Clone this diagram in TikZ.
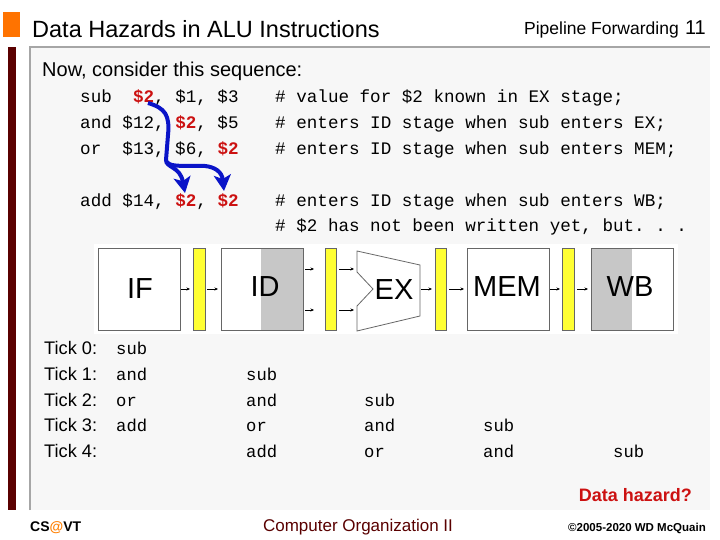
\documentclass[tikz,border=0pt]{standalone}
\usepackage{fontspec}
\setmainfont{Liberation Sans}
\setmonofont{Liberation Mono}
\usetikzlibrary{arrows.meta}
\definecolor{hred}{HTML}{CC1111}
\definecolor{dred}{HTML}{5A0000}
\definecolor{ablue}{HTML}{0A14C8}
\definecolor{ylw}{HTML}{FFFF33}
\begin{document}
\begin{tikzpicture}[x=1pt,y=-1pt,
  code/.style={anchor=base west,inner sep=0pt,font=\ttfamily\fontsize{17.6}{20}\selectfont},
  tick/.style={anchor=base west,inner sep=0pt,font=\fontsize{18.2}{20}\selectfont},
  tcode/.style={anchor=base west,inner sep=0pt,font=\ttfamily\fontsize{17.2}{20}\selectfont},
  stagebox/.style={draw=black!60,line width=0.8pt},
  latch/.style={draw=black!60,fill=ylw,line width=0.6pt},
  sa/.style={-{Stealth[length=3.5pt,width=3pt]},line width=0.6pt},
  slabel/.style={inner sep=0pt,font=\fontsize{29}{32}\selectfont},
  fwd/.style={ablue,line width=4pt,-{Stealth[length=16pt,width=17pt,inset=4pt]}}]
\useasboundingbox (0,0) rectangle (720,540);
\fill[white] (0,0) rectangle (720,540);
% header
\fill[orange!90!red] (3,12) rectangle (20,37);
\node[anchor=base west,inner sep=0pt,font=\fontsize{23.5}{26}\selectfont] (title) at (32,38) {Data Hazards in ALU Instructions};
\node[anchor=base east,inner sep=0pt,font=\fontsize{17.5}{20}\selectfont] (pf) at (679,35) {Pipeline Forwarding};
\node[anchor=base east,inner sep=0pt,font=\fontsize{20}{22}\selectfont] (num) at (706,35) {11};
% panel
\fill[dred] (8,47) rectangle (16,510);
\fill[black!3] (30,47) rectangle (710,510);
\draw[black!35,line width=1.5pt] (30,510) -- (30,47) -- (710,47);
\node[anchor=base west,inner sep=0pt,font=\fontsize{20}{22}\selectfont] (now) at (42,77) {Now, consider this sequence:};
% code
\node[code] (c1) at (80,103) {sub~~\textcolor{hred}{\textbf{\$2}}, \$1, \$3};
\node[code] (c2) at (80,129) {and \$12, \textcolor{hred}{\textbf{\$2}}, \$5};
\node[code] (c3) at (80,155) {or~~\$13, \$6, \textcolor{hred}{\textbf{\$2}}};
\node[code] (c4) at (80,207) {add \$14, \textcolor{hred}{\textbf{\$2}}, \textcolor{hred}{\textbf{\$2}}};
\node[code] (m1) at (275,103) {\# value for \$2 known in EX stage;};
\node[code] (m2) at (275,129) {\# enters ID stage when sub enters EX;};
\node[code] (m3) at (275,155) {\# enters ID stage when sub enters MEM;};
\node[code] (m4) at (275,207) {\# enters ID stage when sub enters WB;};
\node[code] (m5) at (275,232) {\# \$2 has not been written yet, but. . .};
% forwarding arrows
\coordinate (s0) at (148,103);
\coordinate (e1) at (185,193);
\coordinate (e2) at (224,191);
\draw[fwd] (s0) .. controls (165,108) and (170,115) .. (168,135) -- (166,160) .. controls (166,168) and (180,166) .. (e1);
\draw[fwd] (167,162) .. controls (170,168) and (190,165) .. (205,166) .. controls (215,167) and (222,172) .. (e2);
% pipeline
\fill[white] (94,244) rectangle (678,334);
\draw[stagebox] (98,248) rectangle (180,330);
\node[slabel] (IF) at (140,289) {IF};
\fill[black!22] (261,248) rectangle (303,330);
\draw[stagebox] (221,248) rectangle (303,330);
\node[slabel] (ID) at (265,287) {ID};
\draw[stagebox,fill=white] (357,251) -- (420,265) -- (420,316) -- (357,331) -- (357,306) -- (373,289) -- (357,272) -- cycle;
\node[slabel] (EX) at (394,290) {EX};
\draw[stagebox] (467,248) rectangle (549,330);
\node[slabel] (MEM) at (507,287) {MEM};
\fill[black!22] (591,248) rectangle (632,330);
\draw[stagebox] (591,248) rectangle (673,330);
\node[slabel] (WB) at (630,287) {WB};
\draw[latch] (193,248) rectangle (205,330);
\draw[latch] (325,248) rectangle (336,330);
\draw[latch] (435,248) rectangle (446,330);
\draw[latch] (562,248) rectangle (574,330);
\foreach \a/\b/\y in {181/190/289, 207/218/289, 305/314/269, 305/314/310, 339/354/269, 339/354/310, 421/432/289, 449/464/289, 550/560/289, 577/588/289}
  \draw[sa] (\a,\y) -- (\b,\y);
% ticks
\node[tick] (t0) at (44,354) {Tick 0:};
\node[tick] (t1) at (44,380) {Tick 1:};
\node[tick] (t2) at (44,406) {Tick 2:};
\node[tick] (t3) at (44,431) {Tick 3:};
\node[tick] (t4) at (44,457) {Tick 4:};
\node[tcode] (a0) at (116,354) {sub};
\node[tcode] (a1) at (116,380) {and};
\node[tcode] (a2) at (116,406) {or};
\node[tcode] (a3) at (116,431) {add};
\node[tcode] (b1) at (246,380) {sub};
\node[tcode] (b2) at (246,406) {and};
\node[tcode] (b3) at (246,431) {or};
\node[tcode] (b4) at (246,457) {add};
\node[tcode] (x2) at (364,406) {sub};
\node[tcode] (x3) at (364,431) {and};
\node[tcode] (x4) at (364,457) {or};
\node[tcode] (y3) at (483,431) {sub};
\node[tcode] (y4) at (483,457) {and};
\node[tcode] (z4) at (613,457) {sub};
\node[anchor=base east,inner sep=0pt,text=hred,font=\bfseries\fontsize{18}{20}\selectfont] (dh) at (692,501) {Data hazard?};
% footer
\node[anchor=base west,inner sep=0pt,font=\bfseries\fontsize{14}{16}\selectfont] (cs) at (30,531) {CS\textcolor{orange}{@}VT};
\node[anchor=base,inner sep=0pt,text=dred,font=\fontsize{17}{19}\selectfont] (co) at (358,531) {Computer Organization II};
\node[anchor=base east,inner sep=0pt,font=\bfseries\fontsize{11.5}{13}\selectfont] (cp) at (706,531) {©2005-2020 WD McQuain};
\end{tikzpicture}
\end{document}
